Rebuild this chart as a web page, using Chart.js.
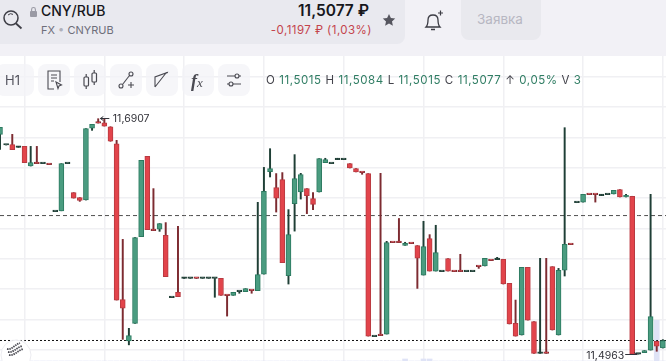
<!DOCTYPE html>
<html><head><meta charset="utf-8">
<script src="https://cdn.jsdelivr.net/npm/chart.js@4"></script>
<style>
html,body{margin:0;padding:0;background:#fff}
#page{position:relative;width:666px;height:361px;overflow:hidden;font-family:Inter,"Noto Sans",sans-serif;background:#fff}
#top{position:absolute;left:0;top:0;width:666px;height:56px;background:#f2f1f6}
#box{position:absolute;left:0;top:0;width:405px;height:44px;background:#e9e9ef;border-radius:0 0 8px 0}
.t{position:absolute;white-space:nowrap;line-height:1}
#wrap{position:absolute;left:0;top:56px;width:669px;height:305px}
#c{display:block}
.btn{position:absolute;top:64px;width:32px;height:32px;border-radius:8px;background:rgba(243,243,247,.75)}
.btn svg{position:absolute;left:0;top:0}
#legend span{color:#2f7d63}
svg{overflow:visible}
</style></head>
<body><div id="page">
<div id="wrap"><canvas id="c" width="669" height="305"></canvas></div>
<div id="top"></div><div id="box"></div>
<svg style="position:absolute;left:0;top:0" width="30" height="34"><circle cx="11" cy="18" r="7" fill="none" stroke="#3e3e46" stroke-width="1.5"/><path d="M16 23.5L21.5 28.5" stroke="#3e3e46" stroke-width="1.8"/><path d="M8 15a4 4 0 0 1 5-.6" fill="none" stroke="#3e3e46" stroke-width="1"/></svg>
<svg style="position:absolute;left:29px;top:6px" width="9" height="11"><rect x="1" y="5" width="7" height="6" rx="1" fill="#9a9aa4"/><path d="M2.6 5V3.4a1.9 1.9 0 0 1 3.8 0V5" fill="none" stroke="#9a9aa4" stroke-width="1.1"/></svg>
<div class="t" style="left:41px;top:4px;font-size:14px;font-weight:500;color:#17171c">CNY/RUB</div>
<div class="t" style="left:41px;top:25px;font-size:11px;color:#6e6e7a">FX <span style="color:#b0b0ba">•</span> CNYRUB</div>
<div class="t" style="right:297px;top:3px;font-size:15.5px;font-weight:600;color:#17171c">11,5077 ₽</div>
<div class="t" style="right:294px;top:25px;font-size:11.5px;letter-spacing:.45px;color:#c4434c">-0,1197 ₽ (1,03%)</div>
<svg style="position:absolute;left:382px;top:13px" width="14" height="14"><path d="M7 1l1.9 4 4.3.5-3.2 2.9.9 4.3L7 10.6 3.1 12.7l.9-4.3L.8 5.5 5.1 5z" fill="#56565f"/></svg>
<svg style="position:absolute;left:423px;top:9px" width="22" height="22"><path d="M3 18c2-2 2-4 2-7 0-3 2-5 5-5s5 2 5 5c0 3 0 5 2 7z" fill="none" stroke="#3c3c44" stroke-width="1.3"/><path d="M8 20.5h4" stroke="#3c3c44" stroke-width="1.5"/><path d="M15 4h5M17.5 1.5v5" stroke="#3c3c44" stroke-width="1.2"/></svg>
<div style="position:absolute;left:461px;top:0;width:80px;height:40px;background:#e9e9ee;border-radius:0 0 8px 8px"></div>
<div class="t" style="left:477px;top:13px;font-size:13.5px;color:#b7b7c2">Заявка</div>

<div class="btn" style="left:-4px;width:38px"></div><div class="t" style="left:5px;top:74px;font-size:13px;color:#55555f">H1</div>
<div class="btn" style="left:38px"><svg width="32" height="32" fill="none" stroke="#4a4a52" stroke-width="1.1"><path d="M22 18V7H10v18h6"/><path d="M13 11h6M13 14h6M13 17h3"/><path d="M18 18l5.500 3-2.500 1-1 2.500z"/></svg></div>
<div class="btn" style="left:74px"><svg width="32" height="32" fill="none" stroke="#4a4a52" stroke-width="1.2"><rect x="10" y="13" width="4.500" height="9" rx="1"/><rect x="18" y="9" width="4.500" height="9" rx="1"/><path d="M12.200 10v3M12.200 22v3M20.200 6v3M20.200 18v3"/></svg></div>
<div class="btn" style="left:110px"><svg width="32" height="32" fill="none" stroke="#4a4a52" stroke-width="1.1"><circle cx="11" cy="22" r="2"/><circle cx="21" cy="10" r="2"/><path d="M12.500 20.500l7-9"/><path d="M18 21h6M21 18v6"/></svg></div>
<div class="btn" style="left:146px"><svg width="32" height="32" fill="none" stroke="#4a4a52" stroke-width="1.1"><path d="M9 23V13l11-4-11 14"/><path d="M20 9l3-1" stroke-dasharray="2 1"/></svg></div>
<div class="btn" style="left:182px"><div class="t" style="left:9px;top:7px;font:italic 600 18px 'Liberation Serif',serif;color:#4a4a52">f<span style="font-size:13px;font-weight:400">x</span></div></div>
<div class="btn" style="left:218px"><svg width="32" height="32" fill="none" stroke="#4a4a52" stroke-width="1.1"><path d="M9 12h14M9 20h14"/><circle cx="19" cy="12" r="2" fill="#f3f3f7"/><circle cx="13" cy="20" r="2" fill="#f3f3f7"/></svg></div>

<div id="legend" class="t" style="left:266px;top:74.5px;font-size:11.5px;letter-spacing:.58px;color:#44444c">O <span>11,5015</span> H <span>11,5084</span> L <span>11,5015</span> C <span>11,5077</span> ↑ <span>0,05%</span> V <span>3</span></div>

<svg style="position:absolute;left:0;top:338px" width="34" height="34"><circle cx="16" cy="17" r="15" fill="#fff" stroke="#ececf0" stroke-width="1"/><g fill="none" stroke="#4d4d55" stroke-width="1.800" stroke-dasharray="1.500 .8"><path d="M7 11c5 1 7-4 13-6"/><path d="M8 14c5 1 8-4 14-6"/><path d="M9 17c5 1 8-4 14-6"/></g></svg>
</div>
<script>
const opens=[
11.6775,11.6687,11.6690,11.6668,11.6676,11.6514,11.6538,11.6534,11.6530,11.6139,
11.6145,11.6534,11.6295,11.6254,11.6234,11.6826,11.6872,11.6871,11.6838,11.6698,
11.5413,11.5073,11.5218,11.5933,11.6594,11.5986,11.5993,11.5943,11.5430,11.5474,
11.5588,11.5588,11.5592,11.5588,11.5588,11.5588,11.5588,11.5451,11.5449,11.5479,
11.5479,11.5492,11.5488,11.5624,11.6468,11.6336,11.6402,11.5611,11.6204,11.6300,
11.6328,11.6245,11.6300,11.6542,11.6534,11.6567,11.6567,11.6534,11.6493,11.6464,
11.6452,11.5109,11.5121,11.5130,11.5887,11.5887,11.5861,11.5879,11.5859,11.5616,
11.5916,11.5649,11.5644,11.5751,11.5648,11.5648,11.5644,11.5644,11.5689,11.5691,
11.5739,11.5743,11.5746,11.5548,11.5218,11.5122,11.5679,11.5232,11.4971,11.4975,
11.5685,11.5122,11.5657,11.5871,11.6212,11.6217,11.6282,11.6282,11.6270,11.6278,
11.6284,11.6320,11.6259,11.6265,11.4965,11.4977,11.4998,11.5070,11.5015];
const highs=[
11.6833,11.6687,11.6775,11.6676,11.6676,11.6676,11.6676,11.6534,11.6530,11.6139,
11.6534,11.6534,11.6295,11.6254,11.6822,11.6857,11.6904,11.6907,11.6838,11.6726,
11.5910,11.5177,11.5925,11.6561,11.6594,11.6328,11.6040,11.6048,11.5430,11.6018,
11.5596,11.5588,11.5592,11.5588,11.5588,11.5588,11.5588,11.5451,11.5474,11.5479,
11.5504,11.5492,11.6215,11.6503,11.6657,11.6452,11.6460,11.6155,11.6608,11.6454,
11.6328,11.6295,11.6575,11.6578,11.6534,11.6578,11.6567,11.6534,11.6493,11.6464,
11.6452,11.5109,11.6454,11.5894,11.5887,11.6082,11.5886,11.5879,11.5859,11.6059,
11.5949,11.6026,11.5644,11.5751,11.5648,11.5787,11.5644,11.5644,11.5689,11.5754,
11.5739,11.5762,11.5746,11.5548,11.5410,11.5679,11.5679,11.5232,11.5754,11.5754,
11.5685,11.5671,11.6830,11.5871,11.6212,11.6281,11.6282,11.6282,11.6281,11.6278,
11.6314,11.6320,11.6281,11.6265,11.4965,11.4994,11.6281,11.5070,11.5084];
const lows=[
11.6651,11.6687,11.6649,11.6668,11.6542,11.6514,11.6534,11.6534,11.6526,11.6139,
11.6145,11.6534,11.6250,11.6223,11.6234,11.6808,11.6868,11.6843,11.6718,11.5410,
11.5086,11.5041,11.5218,11.5933,11.5990,11.5982,11.5976,11.5603,11.5430,11.5438,
11.5588,11.5588,11.5588,11.5588,11.5588,11.5433,11.5449,11.5278,11.5449,11.5466,
11.5479,11.5466,11.5488,11.5624,11.6424,11.6135,11.5718,11.5542,11.5978,11.6242,
11.6122,11.6155,11.6300,11.6542,11.6534,11.6567,11.6567,11.6498,11.6465,11.6446,
11.5113,11.5109,11.5117,11.5130,11.5883,11.5883,11.5861,11.5875,11.5506,11.5616,
11.5649,11.5649,11.5644,11.5649,11.5644,11.5644,11.5644,11.5644,11.5671,11.5691,
11.5735,11.5743,11.5542,11.5213,11.5113,11.5122,11.5245,11.4971,11.4971,11.4971,
11.5163,11.5122,11.5608,11.5867,11.6212,11.6217,11.6278,11.6217,11.6270,11.6278,
11.6284,11.6259,11.6259,11.4965,11.4965,11.4977,11.4998,11.4988,11.5015];
const closes=[
11.6833,11.6687,11.6649,11.6668,11.6542,11.6542,11.6534,11.6534,11.6526,11.6139,
11.6534,11.6534,11.6250,11.6231,11.6822,11.6857,11.6868,11.6843,11.6718,11.5410,
11.5344,11.5117,11.5925,11.6561,11.5990,11.5982,11.6040,11.5603,11.5430,11.5438,
11.5588,11.5588,11.5588,11.5588,11.5588,11.5588,11.5449,11.5447,11.5474,11.5479,
11.5504,11.5488,11.5619,11.6306,11.6493,11.6250,11.5718,11.5949,11.6410,11.6443,
11.6270,11.6197,11.6575,11.6567,11.6534,11.6567,11.6567,11.6498,11.6465,11.6460,
11.5113,11.5109,11.5117,11.5883,11.5883,11.5883,11.5877,11.5875,11.5756,11.5850,
11.5649,11.5801,11.5644,11.5649,11.5644,11.5644,11.5644,11.5644,11.5685,11.5754,
11.5735,11.5743,11.5542,11.5213,11.5113,11.5679,11.5245,11.4971,11.4971,11.4971,
11.5163,11.5655,11.5869,11.5867,11.6212,11.6281,11.6278,11.6278,11.6270,11.6278,
11.6314,11.6259,11.6273,11.4965,11.4965,11.4994,11.5273,11.5031,11.5077];
const volumes=[
0,0,0,0,0,0,0,0,0,0,0,0,0,0,0,0,0,0,0,0,0,0,0,0,0,0,0,0,0,0,0,0,0,0,0,0,0,0,0,0,
0,0,0,0,0,0,0,0,0,0,0,0,0,0,0,0,0,0,0,0,0,0,0,0,0,0,1,0,0,1,1,0,0,0,0,0,0,0,0,0,
0,0,0,0,0,0,0,0,0,0,0,0,0,0,0,0,0,0,0,0,0,0,0,0,0,0,0,20,0];
const categories=opens.map((_,i)=>String(i)).concat(['']);
const priceMin=11.4908, priceMax=11.74205, priceStep=0.025;
const prevLevel=11.6106, lastPrice=11.5077;
const gridEvery=13, gridFirst=4;

const GREEN='#4a9c80',GREEN_B='#2c7a60',RED='#e2444b',RED_B='#b83a41',DARK='#1f3f36',WICK_R='#7d2b31';
const isDoji=i=>opens[i]===closes[i];
const isUp=i=>closes[i]>opens[i];
const extremes={id:'extremes',afterDatasetsDraw(ch){
  const {ctx,scales:{x,y}}=ch;
  const hi=highs.indexOf(Math.max(...highs));
  const loVal=11.4963, lo=lows.indexOf(Math.min(...lows));
  ctx.save();ctx.font='10.5px Inter,"Noto Sans",sans-serif';ctx.fillStyle='#33333a';ctx.strokeStyle='#33333a';ctx.lineWidth=1;ctx.textBaseline='middle';
  let px=x.getPixelForValue(hi),py=Math.round(y.getPixelForValue(highs[hi]))+.5;
  ctx.beginPath();ctx.moveTo(px-4,py);ctx.lineTo(px+5,py);ctx.moveTo(px-4,py);ctx.lineTo(px-1,py-2);ctx.moveTo(px-4,py);ctx.lineTo(px-1,py+2);ctx.stroke();
  ctx.textAlign='left';ctx.fillText('11,6907',px+8.500,py);
  px=x.getPixelForValue(lo);py=Math.round(y.getPixelForValue(loVal))+.5;
  ctx.beginPath();ctx.moveTo(px-7,py);ctx.lineTo(px+5,py);ctx.moveTo(px+5,py);ctx.lineTo(px+2,py-2);ctx.stroke();
  ctx.textAlign='right';ctx.fillText('11,4963',px-8,py+1);
  ctx.restore();
}};
const flat=v=>categories.map(()=>v);
new Chart(document.getElementById('c'),{
  type:'bar',
  plugins:[extremes],
  data:{labels:categories,datasets:[
    {type:'bar',label:'volume',yAxisID:'yv',order:5,grouped:false,barThickness:5,
     data:volumes,backgroundColor:'#dfe3f6',borderWidth:0},
    {type:'line',label:'prev',order:4,data:flat(prevLevel),borderColor:'#4d4d4d',borderWidth:1,borderDash:[4,3],pointRadius:0,fill:false},
    {type:'line',label:'last',order:3,data:flat(lastPrice),borderColor:'#111111',borderWidth:1,borderDash:[2,2],pointRadius:0,fill:false},
    {type:'bar',label:'wick',order:2,grouped:false,barThickness:1.300,
     data:opens.map((_,i)=>[lows[i],highs[i]]),
     backgroundColor:c=>(isUp(c.dataIndex)||isDoji(c.dataIndex))?DARK:WICK_R,borderWidth:0},
    {type:'bar',label:'body',order:1,grouped:false,barThickness:5,minBarLength:1.500,
     data:opens.map((_,i)=>[opens[i],closes[i]]),
     backgroundColor:c=>isDoji(c.dataIndex)?DARK:(isUp(c.dataIndex)?GREEN:RED),
     borderColor:c=>{const i=c.dataIndex;if(isDoji(i))return DARK;if(Math.abs(opens[i]-closes[i])<0.001)return isUp(i)?DARK:WICK_R;return isUp(i)?GREEN_B:RED_B;},
     borderWidth:1,borderSkipped:false}
  ]},
  options:{
    responsive:false,animation:false,
    layout:{padding:0},
    plugins:{legend:{display:false},tooltip:{enabled:false}},
    scales:{
      x:{offset:false,border:{display:false},
         grid:{offset:false,drawTicks:false,lineWidth:1.500,color:c=>(c.index%gridEvery===gridFirst)?'#f0f0f3':'rgba(0,0,0,0)'},
         ticks:{display:false,autoSkip:false}},
      y:{min:priceMin,max:priceMax,border:{display:false},
         grid:{drawTicks:false,lineWidth:1.500,color:'#f0f0f3'},
         ticks:{display:false,stepSize:priceStep,includeBounds:false}},
      yv:{display:false,min:0,max:150}
    }
  }
});
</script>
</body></html>
